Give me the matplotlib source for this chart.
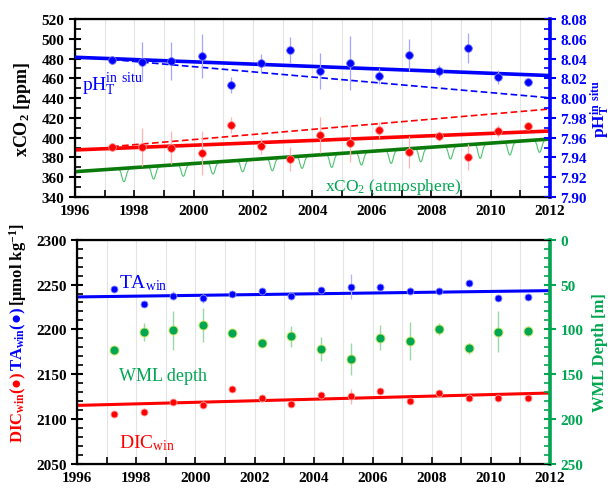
import matplotlib
matplotlib.use("Agg")
import matplotlib.pyplot as plt
from matplotlib.path import Path
from matplotlib.patches import PathPatch
from matplotlib.ticker import MultipleLocator, FormatStrFormatter, FuncFormatter

plt.rcParams['font.family'] = ['Liberation Serif', 'DejaVu Serif']
plt.rcParams['font.weight'] = 'bold'
plt.rcParams['axes.labelweight'] = 'bold'
plt.rcParams['mathtext.default'] = 'regular'

RED = '#ff0000'
BLUE = '#0000ff'
GREEN = '#00a651'
GREEN_DARK = '#0a7a0a'
GREEN_THIN = '#4cc46e'

# winter sampling times
years = [1997.25, 1998.25, 1999.25, 2000.27, 2001.25, 2002.25, 2003.25, 2004.25,
         2005.25, 2006.25, 2007.25, 2008.25, 2009.25, 2010.25, 2011.25]

# upper panel: seawater xCO2 and pH
xco2 = [390.6, 390.3, 389.9, 384.5, 412.8, 391.9, 378.4, 402.7,
        394.3, 407.8, 385.3, 401.5, 380.3, 406.5, 411.6]
xco2_err = [3, 19, 17, 22, 8, 8, 12, 18, 19, 8, 16, 5, 13, 6, 3]
ph = [8.0389, 8.0368, 8.0375, 8.0426, 8.0136, 8.0355, 8.0486, 8.0274,
      8.0355, 8.0224, 8.0436, 8.0270, 8.0507, 8.0213, 8.0163]
ph_err = [0.002, 0.020, 0.019, 0.022, 0.008, 0.009, 0.013, 0.018,
          0.027, 0.008, 0.016, 0.006, 0.015, 0.007, 0.002]

# trend lines (end points)
fit_years = [1996, 2012]
xco2_fit = [387.6, 406.7]
ph_fit = [8.0413, 8.0228]
atm_fit = [365.6, 398.6]
dash_years = [1997.25, 2012]
xco2_dash = [391.0, 429.0]
ph_dash = [8.039, 8.0003]

# atmospheric record: yearly plateau and summer minimum
cycle_years = list(range(1997, 2012))
cycle_peak = [368.5, 370.6, 372.8, 374.9, 377.0, 379.1, 381.0, 383.2,
              385.1, 387.3, 389.2, 391.3, 393.5, 395.4, 397.4]
cycle_trough = [355.5, 358.2, 361.0, 363.3, 365.6, 366.6, 369.0, 370.0,
                372.4, 374.0, 375.7, 378.4, 379.1, 382.5, 385.2]

# lower panel: winter TA, DIC and mixed layer depth
ta = [2245.5, 2228.0, 2237.7, 2234.7, 2239.9, 2242.9, 2237.7, 2243.6,
      2247.7, 2247.7, 2243.2, 2242.5, 2251.7, 2234.6, 2235.7]
ta_err = [2, 3, 5, 5, 3, 3, 3, 3, 14, 3, 4, 3, 2, 3, 2]
dic = [2105.6, 2108.2, 2119.0, 2116.0, 2133.2, 2123.9, 2116.8, 2127.1,
       2125.3, 2130.9, 2120.5, 2129.0, 2123.8, 2123.0, 2123.4]
dic_err = [2, 4, 3, 4, 2, 3, 2, 2, 8, 2, 3, 3, 3, 4, 3]
wml = [123.1, 103.0, 101.1, 95.1, 103.7, 114.6, 107.8, 121.8,
       133.0, 109.2, 112.6, 99.6, 121.1, 102.5, 101.4]
wml_err = [2, 10, 22, 19, 4, 4, 12, 13.5, 18, 14, 21, 6.5, 6.5, 22.5, 5.5]
ta_fit = [2236.2, 2243.2]
dic_fit = [2115.3, 2129.1]


def style_xaxis(ax):
    ax.set_xlim(1996, 2012)
    ax.xaxis.set_major_locator(MultipleLocator(1))
    ax.xaxis.set_major_formatter(FuncFormatter(lambda v, p: "%d" % v if int(v) % 2 == 0 else ""))
    ax.grid(axis='x', color='#e4e4e4', lw=0.8, zorder=0)
    ax.tick_params(axis='x', direction='in', length=5, width=1.2, labelsize=11, pad=5)
    for side in ['top', 'bottom', 'left']:
        ax.spines[side].set_linewidth(1.6)


def style_yaxis(ax, color, major, minor, fmt):
    ax.yaxis.set_major_locator(MultipleLocator(major))
    ax.yaxis.set_minor_locator(MultipleLocator(minor))
    ax.yaxis.set_major_formatter(FormatStrFormatter(fmt))
    ax.tick_params(axis='y', which='major', direction='inout', length=8, width=1.5,
                   labelsize=11, colors=color)
    ax.tick_params(axis='y', which='minor', direction='in', length=4, width=1.2, colors=color)


def stacked_ylabel(fig, x, y0, parts, size):
    # rotated label made of several coloured pieces, bottom to top
    renderer = fig.canvas.get_renderer()
    y = y0
    for s, c in parts:
        t = fig.text(x, y, s, color=c, rotation=90, ha='center', va='bottom',
                     fontsize=size, fontweight='bold')
        bb = t.get_window_extent(renderer)
        y += bb.height / fig.bbox.height


def seasonal_path():
    # flat winter plateau with a rounded summer drawdown each year
    verts = [(1997.3, cycle_peak[0])]
    codes = [Path.MOVETO]
    for yr, pk, tr in zip(cycle_years, cycle_peak, cycle_trough):
        verts += [(yr + 0.45, pk),
                  (yr + 0.57, pk), (yr + 0.58, tr), (yr + 0.65, tr),
                  (yr + 0.72, tr), (yr + 0.73, pk), (yr + 0.86, pk)]
        codes += [Path.LINETO] + [Path.CURVE4] * 6
    verts.append((2011.97, cycle_peak[-1] + 1.0))
    codes.append(Path.LINETO)
    return Path(verts, codes)


def plot_top(fig):
    ax = fig.add_axes([0.1225, 0.5951, 0.7761, 0.3640])
    style_xaxis(ax)
    ax.set_ylim(340, 520)
    style_yaxis(ax, 'black', 20, 10, '%d')
    ax.set_ylabel("xCO$_2$ [ppm]", fontsize=13, labelpad=6)

    # atmosphere
    ax.add_patch(PathPatch(seasonal_path(), fill=False, edgecolor=GREEN_THIN, lw=0.8, zorder=2))
    ax.plot(fit_years, atm_fit, color=GREEN_DARK, lw=2.6, zorder=3)

    ax.plot(fit_years, xco2_fit, color=RED, lw=2.6, zorder=3)
    ax.plot(dash_years, xco2_dash, color=RED, lw=1.2, ls=(0, (4, 2)), zorder=3)
    ax.errorbar(years, xco2, yerr=xco2_err, fmt='o', color=RED, ms=5.5,
                mec='#ff8a8a', mew=0.6, ecolor='#ffb3b3', elinewidth=0.9, zorder=4)

    ax.text(2004.42, 347, "xCO$_2$ (atmosphere)", color=GREEN, fontsize=12.5,
            fontweight='normal', va='baseline')
    ax.text(1996.25, 449, "pH$_T^{in\\ situ}$", color=BLUE, fontsize=14,
            fontweight='normal', va='baseline')

    axr = ax.twinx()
    axr.set_ylim(7.90, 8.08)
    style_yaxis(axr, BLUE, 0.02, 0.01, '%.2f')
    axr.spines['right'].set_color(BLUE)
    axr.spines['right'].set_linewidth(2.6)
    axr.set_ylabel("pH$_T^{in\\ situ}$", color=BLUE, fontsize=12.5, labelpad=1)
    axr.plot(fit_years, ph_fit, color=BLUE, lw=2.6, zorder=3)
    axr.plot(dash_years, ph_dash, color=BLUE, lw=1.2, ls=(0, (4, 2)), zorder=3)
    axr.errorbar(years, ph, yerr=ph_err, fmt='o', color=BLUE, ms=5.5,
                 mec='#6f6fff', mew=0.6, ecolor='#a6a6ff', elinewidth=0.9, zorder=4)


def plot_bottom(fig):
    ax = fig.add_axes([0.1263, 0.0491, 0.7723, 0.4587])
    style_xaxis(ax)
    ax.set_ylim(2050, 2300)
    style_yaxis(ax, 'black', 50, 10, '%d')

    ax.plot(fit_years, ta_fit, color=BLUE, lw=2.2, zorder=3)
    ax.plot(fit_years, dic_fit, color=RED, lw=2.2, zorder=3)
    ax.errorbar(years, ta, yerr=ta_err, fmt='o', color=BLUE, ms=5,
                mec='#8c8cff', mew=0.6, ecolor='#b3b3ff', elinewidth=0.9, zorder=4)
    ax.errorbar(years, dic, yerr=dic_err, fmt='o', color=RED, ms=5,
                mec='#ff9c9c', mew=0.6, ecolor='#ffb3b3', elinewidth=0.9, zorder=4)

    ax.text(1997.4, 2247, "TA$_{win}$", color=BLUE, fontsize=14, fontweight='normal', va='baseline')
    ax.text(1997.4, 2144, "WML depth", color=GREEN, fontsize=13, fontweight='normal', va='baseline')
    ax.text(1997.4, 2069, "DIC$_{win}$", color=RED, fontsize=14, fontweight='normal', va='baseline')

    axr = ax.twinx()
    axr.set_ylim(250, 0)
    style_yaxis(axr, GREEN, 50, 10, '%d')
    axr.spines['right'].set_color(GREEN)
    axr.spines['right'].set_linewidth(2.6)
    axr.set_ylabel("WML Depth [m]", color=GREEN, fontsize=12, labelpad=6)
    axr.errorbar(years, wml, yerr=wml_err, fmt='o', color=GREEN, ms=6.5,
                 mec='#c8e86a', mew=0.7, ecolor='#9bd8a8', elinewidth=1.0, zorder=4)

    stacked_ylabel(fig, 0.030, 0.094,
                   [("DIC$_{win}$(●) ", RED),
                    ("TA$_{win}$(●) ", BLUE),
                    ("[μmol kg$^{-1}$]", 'black')], 12)


def main():
    fig = plt.figure(figsize=(6.12, 4.89), dpi=100)
    plot_top(fig)
    plot_bottom(fig)
    fig.savefig("out.png", dpi=100)


if __name__ == "__main__":
    main()
